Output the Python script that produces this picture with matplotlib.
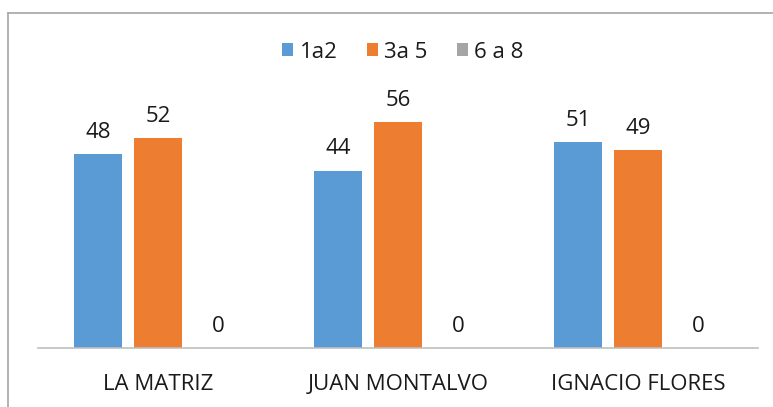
import numpy as np
import matplotlib.pyplot as plt

categories = ["LA MATRIZ", "JUAN MONTALVO", "IGNACIO FLORES"]
series_names = ["1a2", "3a 5", "6 a 8"]
vals_1a2 = [48, 44, 51]
vals_3a5 = [52, 56, 49]
vals_6a8 = [0, 0, 0]

colors = ["#5B9BD5", "#ED7D31", "#A5A5A5"]

plt.rcParams['font.family'] = ['Open Sans', 'DejaVu Sans']

fig = plt.figure(figsize=(7.73, 4.07), dpi=100)
ax = fig.add_axes([38 / 773, 59 / 407, 720 / 773, 242 / 407])

x = np.arange(len(categories))
width = 0.2
offsets = [-0.25, 0, 0.25]
all_vals = [vals_1a2, vals_3a5, vals_6a8]

for vals, off, col, name in zip(all_vals, offsets, colors, series_names):
    bars = ax.bar(x + off, vals, width, color=col, label=name)
    for b, v in zip(bars, vals):
        ax.annotate(str(v), (b.get_x() + b.get_width() / 2, v),
                    xytext=(0, 8), textcoords="offset points",
                    ha="center", va="bottom", fontsize=16, color="#1a1a1a")

ax.set_xlim(-0.5, 2.5)
ax.set_ylim(0, 60)
ax.set_yticks([])
ax.set_xticks(x)
ax.set_xticklabels(categories, fontsize=16, color="#1a1a1a")
ax.tick_params(axis="x", length=0, pad=19)
for s in ["top", "right", "left"]:
    ax.spines[s].set_visible(False)
ax.spines["bottom"].set_color("#BFBFBF")
ax.spines["bottom"].set_linewidth(1.2)

leg = fig.legend(loc="center", bbox_to_anchor=(403 / 773, 1 - 52 / 407), ncol=3,
                 frameon=False, fontsize=16, handlelength=0.5, handleheight=0.5,
                 handletextpad=0.3, columnspacing=1.3)
for t in leg.get_texts():
    t.set_color("#1a1a1a")

# chart border (cropped on right/bottom)
fig.add_artist(plt.Line2D([8 / 773, 8 / 773], [0, 1 - 13 / 407], color="#A6A6A6", lw=1.2))
fig.add_artist(plt.Line2D([8 / 773, 1], [1 - 13 / 407, 1 - 13 / 407], color="#A6A6A6", lw=1.2))

fig.savefig("out.png", dpi=100)
